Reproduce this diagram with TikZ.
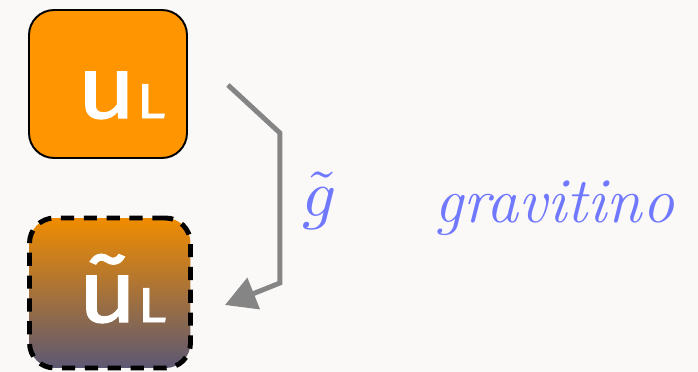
\documentclass[tikz,border=0pt]{standalone}
\usepackage{fontspec}
\newfontfamily\boxfont[FakeStretch=1.18, FakeBold=1.2]{Fira Sans}
\usetikzlibrary{arrows.meta, positioning, calc}
\definecolor{bgcol}{HTML}{FAF9F7}
\definecolor{quark}{HTML}{FF9500}
\definecolor{squarktop}{HTML}{F08C00}
\definecolor{squarkbot}{HTML}{5C5874}
\definecolor{flowgray}{HTML}{858585}
\definecolor{labblue}{HTML}{7078FF}

\begin{document}
\begin{tikzpicture}[
    x=0.02cm, y=-0.02cm,
    particle/.style={rectangle, rounded corners=0.5cm, minimum width=3.16cm, minimum height=2.96cm, inner sep=0pt},
    partname/.style={text=white, font=\boxfont\fontsize{50}{50}\selectfont, inner sep=0pt},
    flow/.style={draw=flowgray, line width=2.8pt, -{Triangle[length=0.62cm, width=0.66cm]}},
    lab/.style={text=labblue, inner sep=0pt}
]
\fill[bgcol] (0,0) rectangle (698,372);
\node[particle, fill=quark, draw=black, line width=1.1pt] (uL) at (108,84) {};
\node[particle, top color=squarktop, bottom color=squarkbot, draw=black, line width=2.8pt, dash pattern=on 7.5pt off 5.5pt, minimum width=3.22cm, minimum height=3.0cm] (suL) at (110,293) {};
\node[partname, anchor=base] (uLtext) at ($(uL)+(13,34)$) {u{\fontsize{28}{28}\selectfont L}};
\node[partname, anchor=base] (suLtext) at ($(suL)+(12,29)$) {ũ{\fontsize{28}{28}\selectfont L}};
\draw[flow] ([shift={(40,1)}]uL.east) -- ++(52,48) -- ++(0,150) -- ([shift={(32,12)}]suL.east);
\node[lab, scale=3.8, transform shape] (gt) at (320,201) {$\tilde{g}$};
\node[lab, font=\itshape\fontsize{36.5}{36.5}\selectfont, anchor=base west] (grav) at (434,222) {gravitino};
\end{tikzpicture}
\end{document}
